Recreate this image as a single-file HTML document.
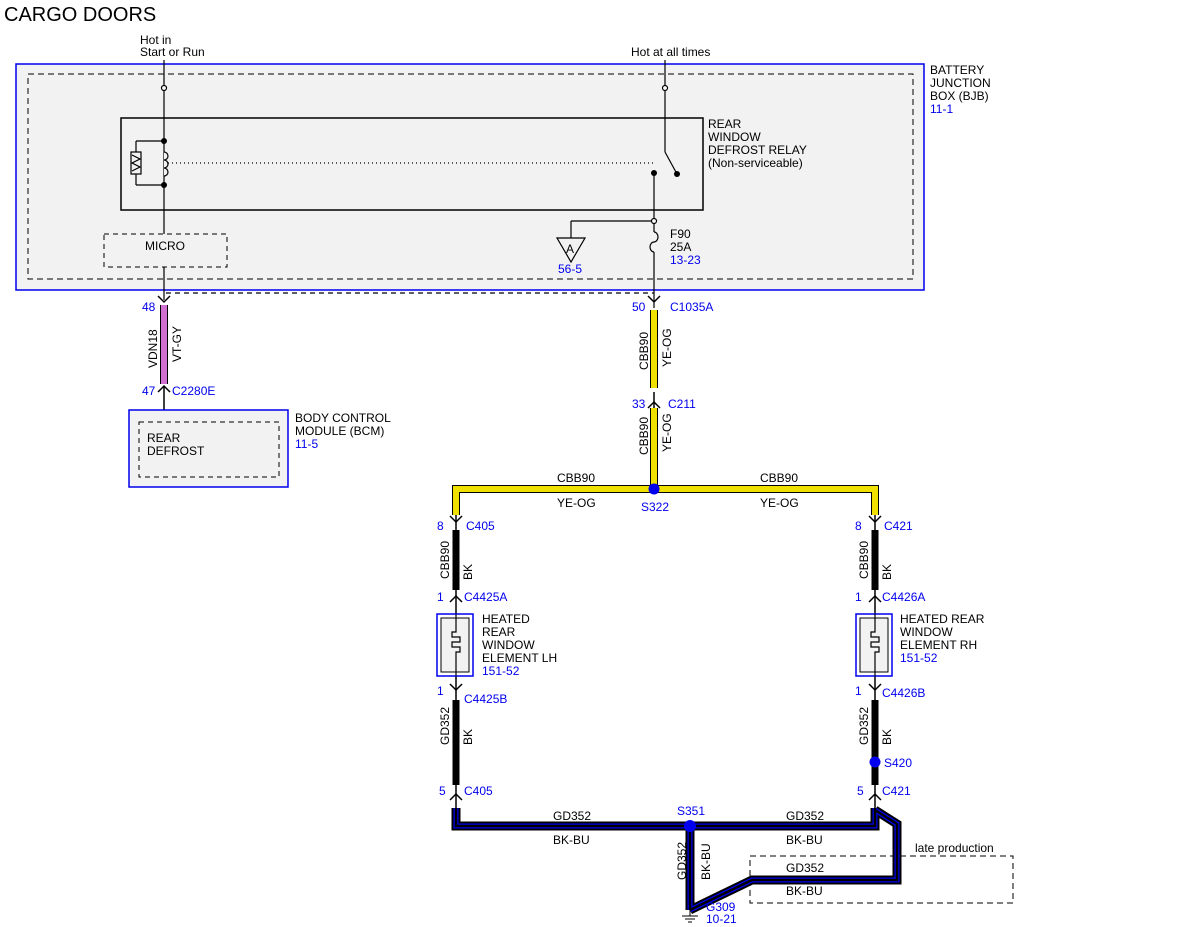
<!DOCTYPE html>
<html><head><meta charset="utf-8"><style>
body{margin:0;background:#fff}
svg{display:block;font-family:"Liberation Sans",sans-serif}
.t{font-size:12px;fill:#000}
.b{font-size:12px;fill:#0000ee}
</style></head><body>
<svg width="1200" height="927" viewBox="0 0 1200 927">
<text x="4" y="21" font-size="20" fill="#000">CARGO DOORS</text>
<rect x="16" y="64" width="908" height="226" fill="#f2f2f2" stroke="#0000ee" stroke-width="1.5"/>
<rect x="28" y="74" width="885" height="205" fill="none" stroke="#000" stroke-dasharray="6,4"/>
<text class="t" x="930" y="74">BATTERY</text><text class="t" x="930" y="87">JUNCTION</text><text class="t" x="930" y="100">BOX (BJB)</text><text class="b" x="930" y="113">11-1</text>
<text class="t" x="140" y="44">Hot in</text><text class="t" x="140" y="56">Start or Run</text>
<text class="t" x="631" y="56">Hot at all times</text>
<rect x="121" y="118" width="582" height="92" fill="#f2f2f2" stroke="#000" stroke-width="1.5"/>
<text class="t" x="708" y="128">REAR</text><text class="t" x="708" y="141">WINDOW</text><text class="t" x="708" y="154">DEFROST RELAY</text><text class="t" x="708" y="167">(Non-serviceable)</text>
<g stroke="#000" fill="none" stroke-width="1.2">
<line x1="164" y1="60" x2="164" y2="234"/>
<circle cx="164" cy="88" r="2.5" fill="#fff"/>
<line x1="136" y1="141" x2="164" y2="141"/><line x1="136" y1="185" x2="164" y2="185"/>
<line x1="136" y1="141" x2="136" y2="185"/>
<rect x="131" y="152" width="10" height="22" fill="#f2f2f2"/>
<path d="M132 155 L140 159 L132 163 L140 167 L132 171"/>
<path d="M164 152 a4 4 0 0 1 0 8 a4 4 0 0 1 0 8 a4 4 0 0 1 0 8" fill="#f2f2f2"/>
<line x1="168" y1="163" x2="655" y2="163" stroke-dasharray="1,3"/>
<line x1="665" y1="60" x2="665" y2="152"/>
<circle cx="665" cy="88" r="2.5" fill="#fff"/>
<line x1="665" y1="152" x2="677" y2="174"/>
<line x1="654" y1="173" x2="654" y2="232"/>
<line x1="654" y1="221" x2="571" y2="221"/><line x1="571" y1="221" x2="571" y2="238"/>
<path d="M557 238 L585 238 L571 262 Z" fill="#f2f2f2"/>
<path d="M654 232 a4 5 0 0 1 0 10 a4 5 0 0 0 0 10"/>
<line x1="654" y1="252" x2="654" y2="308"/>
<circle cx="654" cy="221" r="2.5" fill="#fff"/>
<line x1="164" y1="267" x2="164" y2="300"/>
<line x1="166" y1="293" x2="654" y2="293" stroke-dasharray="5,4"/>
</g>
<circle cx="164" cy="141" r="3"/><circle cx="164" cy="185" r="3"/><circle cx="654" cy="173" r="3"/><circle cx="677" cy="174" r="3"/>
<text class="t" x="566" y="253" font-size="11">A</text>
<text class="b" x="558" y="273">56-5</text>
<text class="t" x="670" y="238">F90</text><text class="t" x="670" y="251">25A</text><text class="b" x="670" y="264">13-23</text>
<rect x="104" y="234" width="123" height="33" fill="#f2f2f2" stroke="#000" stroke-dasharray="5,4"/>
<text class="t" x="145" y="250">MICRO</text>
<g stroke="#000" stroke-width="1.5" fill="none">
<path d="M158 296 L164 302 L170 296"/><path d="M158 392 L164 386 L170 392"/>
<path d="M648 296 L654 302 L660 296"/><path d="M648 408 L654 402 L660 408"/>
<path d="M450 516 L456 522 L462 516"/><path d="M869 516 L875 522 L881 516"/>
<path d="M450 602 L456 596 L462 602"/><path d="M869 602 L875 596 L881 602"/>
<path d="M450 684 L456 690 L462 684"/><path d="M869 684 L875 690 L881 684"/>
<path d="M450 800 L456 794 L462 800"/><path d="M869 800 L875 794 L881 800"/>
<line x1="164" y1="386" x2="164" y2="420"/>
<line x1="654" y1="392" x2="654" y2="410"/>
<line x1="456" y1="515" x2="456" y2="530"/><line x1="875" y1="515" x2="875" y2="530"/>
<line x1="456" y1="590" x2="456" y2="700"/><line x1="875" y1="590" x2="875" y2="700"/>
<line x1="456" y1="785" x2="456" y2="808"/><line x1="875" y1="785" x2="875" y2="808"/>
</g>
<line x1="164" y1="305" x2="164" y2="384" stroke="#000" stroke-width="8"/>
<line x1="164" y1="305" x2="164" y2="384" stroke="#d070d0" stroke-width="6"/>
<text class="b" x="142" y="311">48</text>
<text class="b" x="142" y="395">47</text><text class="b" x="172" y="395">C2280E</text>
<text class="t" transform="translate(157,368) rotate(-90)">VDN18</text>
<text class="t" transform="translate(181,362) rotate(-90)">VT-GY</text>
<rect x="129" y="410" width="159" height="77" fill="#f2f2f2" stroke="#0000ee" stroke-width="1.5"/>
<rect x="139" y="422" width="140" height="55" fill="none" stroke="#000" stroke-dasharray="5,4"/>
<text class="t" x="147" y="442">REAR</text><text class="t" x="147" y="455">DEFROST</text>
<text class="t" x="295" y="422">BODY CONTROL</text><text class="t" x="295" y="435">MODULE (BCM)</text><text class="b" x="295" y="448">11-5</text>
<g fill="none" stroke-linejoin="miter">
<path d="M654 310 V388" stroke="#000" stroke-width="8"/><path d="M654 310 V388" stroke="#f0e000" stroke-width="6"/>
<path d="M654 408 V489 M456 515 V489 H875 V515" stroke="#000" stroke-width="8"/>
<path d="M654 408 V489 M456 515 V489 H875 V515" stroke="#f0e000" stroke-width="6"/>
</g>
<text class="b" x="632" y="311">50</text><text class="b" x="670" y="311">C1035A</text>
<text class="t" transform="translate(648,370) rotate(-90)">CBB90</text>
<text class="t" transform="translate(671,367) rotate(-90)">YE-OG</text>
<text class="b" x="632" y="408">33</text><text class="b" x="668" y="408">C211</text>
<text class="t" transform="translate(648,455) rotate(-90)">CBB90</text>
<text class="t" transform="translate(671,452) rotate(-90)">YE-OG</text>
<circle cx="654" cy="489" r="5.5" fill="#0000ee"/>
<text class="b" x="641" y="511">S322</text>
<text class="t" x="557" y="482">CBB90</text><text class="t" x="557" y="507">YE-OG</text>
<text class="t" x="760" y="482">CBB90</text><text class="t" x="760" y="507">YE-OG</text>
<g stroke="#000" stroke-width="7"><line x1="456" y1="530" x2="456" y2="590"/><line x1="875" y1="530" x2="875" y2="590"/>
<line x1="456" y1="700" x2="456" y2="785"/><line x1="875" y1="700" x2="875" y2="785"/></g>
<text class="b" x="437" y="530">8</text><text class="b" x="466" y="530">C405</text>
<text class="b" x="855" y="530">8</text><text class="b" x="884" y="530">C421</text>
<text class="t" transform="translate(449,579) rotate(-90)">CBB90</text><text class="t" transform="translate(472,580) rotate(-90)">BK</text>
<text class="t" transform="translate(868,579) rotate(-90)">CBB90</text><text class="t" transform="translate(891,580) rotate(-90)">BK</text>
<text class="b" x="437" y="601">1</text><text class="b" x="464" y="601">C4425A</text>
<text class="b" x="855" y="601">1</text><text class="b" x="882" y="601">C4426A</text>
<g>
<rect x="437" y="614" width="36" height="62" fill="#fff" stroke="#0000ee" stroke-width="1.5"/>
<rect x="441" y="618" width="28" height="54" fill="#f2f2f2" stroke="#000"/>
<rect x="856" y="614" width="36" height="62" fill="#fff" stroke="#0000ee" stroke-width="1.5"/>
<rect x="860" y="618" width="28" height="54" fill="#f2f2f2" stroke="#000"/>
<path d="M456 614 V632 H452 V637 H460 V642 H452 V647 H460 V652 H456 V676" fill="none" stroke="#000" stroke-width="1.2"/>
<path d="M875 614 V632 H871 V637 H879 V642 H871 V647 H879 V652 H875 V676" fill="none" stroke="#000" stroke-width="1.2"/>
</g>
<text class="t" x="482" y="623">HEATED</text><text class="t" x="482" y="636">REAR</text><text class="t" x="482" y="649">WINDOW</text><text class="t" x="482" y="662">ELEMENT LH</text><text class="b" x="482" y="675">151-52</text>
<text class="t" x="900" y="623">HEATED REAR</text><text class="t" x="900" y="636">WINDOW</text><text class="t" x="900" y="649">ELEMENT RH</text><text class="b" x="900" y="662">151-52</text>
<text class="b" x="437" y="695">1</text><text class="b" x="464" y="703">C4425B</text>
<text class="b" x="855" y="695">1</text><text class="b" x="882" y="697">C4426B</text>
<text class="t" transform="translate(449,745) rotate(-90)">GD352</text><text class="t" transform="translate(472,745) rotate(-90)">BK</text>
<text class="t" transform="translate(868,745) rotate(-90)">GD352</text><text class="t" transform="translate(891,745) rotate(-90)">BK</text>
<circle cx="875" cy="762" r="5.5" fill="#0000ee"/><text class="b" x="884" y="767">S420</text>
<text class="b" x="439" y="795">5</text><text class="b" x="464" y="795">C405</text>
<text class="b" x="857" y="795">5</text><text class="b" x="882" y="795">C421</text>
<rect x="750" y="856" width="263" height="47" fill="none" stroke="#000" stroke-dasharray="6,4"/>
<text class="t" x="915" y="852">late production</text>
<g fill="none" stroke-linejoin="miter">
<path d="M456 808 V826 H875 V808 M690 826 V910 M875 810 L897 824 V880 H752 L690 910" stroke="#000" stroke-width="9"/>
<path d="M456 808 V826 H875 V808 M690 826 V910 M875 810 L897 824 V880 H752 L690 910" stroke="#0000ee" stroke-width="5"/>
<path d="M456 808 V826 H875 V808 M690 826 V910 M875 810 L897 824 V880 H752 L690 910" stroke="#000" stroke-width="2.5"/>
</g>
<circle cx="690" cy="826" r="6" fill="#0000ee"/>
<text class="b" x="677" y="815">S351</text>
<text class="t" x="553" y="820">GD352</text><text class="t" x="553" y="844">BK-BU</text>
<text class="t" x="786" y="820">GD352</text><text class="t" x="786" y="844">BK-BU</text>
<text class="t" x="786" y="872">GD352</text><text class="t" x="786" y="895">BK-BU</text>
<text class="t" transform="translate(686,880) rotate(-90)">GD352</text>
<text class="t" transform="translate(710,880) rotate(-90)">BK-BU</text>
<g stroke="#000"><line x1="690" y1="910" x2="690" y2="916"/><line x1="682" y1="916" x2="698" y2="916"/><line x1="685" y1="919" x2="695" y2="919"/><line x1="688" y1="922" x2="692" y2="922"/></g>
<text class="b" x="706" y="911">G309</text><text class="b" x="706" y="923">10-21</text>
</svg>
</body></html>
